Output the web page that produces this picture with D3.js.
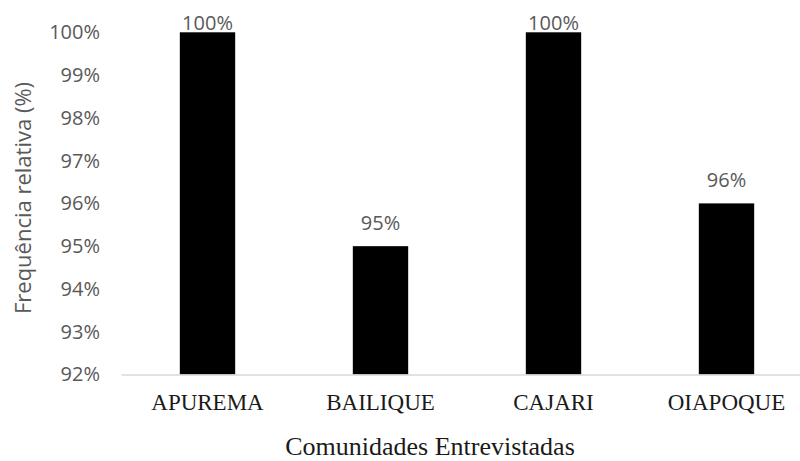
<!DOCTYPE html>
<html>
<head>
<meta charset="utf-8">
<script src="https://cdn.jsdelivr.net/npm/d3@7"></script>
<style>
  html, body { margin: 0; padding: 0; background: #fff; }
  svg { display: block; }
</style>
</head>
<body>
<svg id="chart" width="800" height="461"></svg>
<script>
// Share of respondents per surveyed community
const communities = ["APUREMA", "BAILIQUE", "CAJARI", "OIAPOQUE"];
const shares = [100, 95, 100, 96];
const yTicks = [92, 93, 94, 95, 96, 97, 98, 99, 100];

const svg = d3.select("#chart");
const plotLeft = 121, plotRight = 813, plotTop = 32.3, plotBottom = 374.5;

const x = d3.scaleBand()
  .domain(communities)
  .range([plotLeft, plotRight])
  .paddingInner(0.68)
  .paddingOuter(0.34);

const y = d3.scaleLinear()
  .domain([92, 100])
  .range([plotBottom, plotTop]);

const sansFont = "'Open Sans', 'Noto Sans', sans-serif";
const serifFont = "'Liberation Serif', 'DejaVu Serif', serif";

// y axis: labels only
const yAxis = d3.axisLeft(y)
  .tickValues(yTicks)
  .tickFormat(d => d + "%")
  .tickSize(0)
  .tickPadding(0);
const gy = svg.append("g").attr("transform", `translate(${plotLeft - 21},0)`).call(yAxis);
gy.select(".domain").remove();
gy.selectAll("text")
  .attr("fill", "#595959")
  .style("font-family", sansFont)
  .style("font-size", "20px");

// bars
svg.append("g").selectAll("rect")
  .data(communities)
  .join("rect")
  .attr("x", d => x(d))
  .attr("width", x.bandwidth())
  .attr("y", (d, i) => y(shares[i]))
  .attr("height", (d, i) => y(92) - y(shares[i]))
  .attr("fill", "#000");

// baseline axis
const xAxis = d3.axisBottom(x).tickSize(0).tickPadding(0);
const gx = svg.append("g").attr("transform", `translate(0,${plotBottom})`).call(xAxis);
gx.select(".domain").attr("stroke", "#d9d9d9").attr("stroke-width", 1.5);
gx.selectAll("text")
  .attr("fill", "#1a1a1a")
  .attr("dy", "1.55em")
  .style("font-family", serifFont)
  .style("font-size", "23px");

// value labels
svg.append("g").selectAll("text")
  .data(communities)
  .join("text")
  .attr("x", d => x(d) + x.bandwidth() / 2)
  .attr("y", (d, i) => shares[i] >= 100 ? y(shares[i]) - 2 : y(shares[i]) - 16)
  .attr("text-anchor", "middle")
  .attr("fill", "#595959")
  .style("font-family", sansFont)
  .style("font-size", "20px")
  .text((d, i) => shares[i] + "%");

// axis titles
svg.append("text")
  .attr("transform", "translate(31,198) rotate(-90)")
  .attr("text-anchor", "middle")
  .attr("fill", "#595959")
  .style("font-family", sansFont)
  .style("font-size", "22px")
  .text("Frequência relativa (%)");

svg.append("text")
  .attr("x", 430)
  .attr("y", 455)
  .attr("text-anchor", "middle")
  .attr("fill", "#1a1a1a")
  .style("font-family", serifFont)
  .style("font-size", "26px")
  .text("Comunidades Entrevistadas");
</script>
</body>
</html>
